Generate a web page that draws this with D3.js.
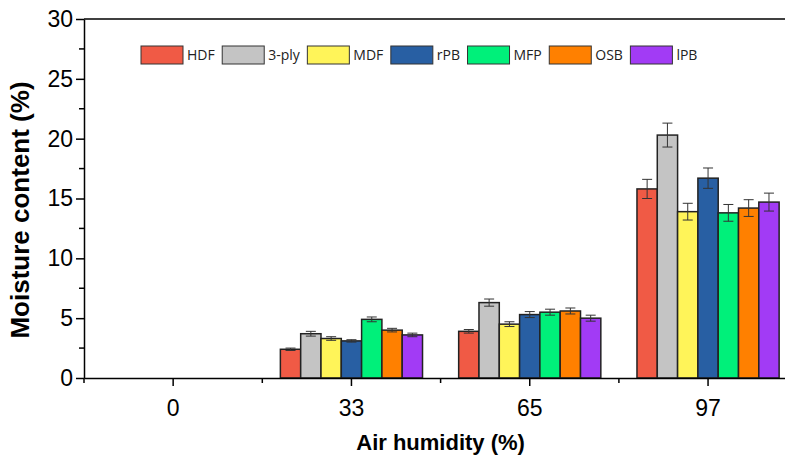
<!DOCTYPE html>
<html>
<head>
<meta charset="utf-8">
<script src="https://cdn.jsdelivr.net/npm/d3@7"></script>
<style>
  body { margin: 0; background: #fff; }
  svg { display: block; }
  .axis path, .axis line { stroke: #000; stroke-width: 1.5; }
  .axis text { font-family: "Liberation Sans", Arial, sans-serif; font-size: 23px; fill: #000; }
  .title { font-family: "Liberation Sans", Arial, sans-serif; font-weight: bold; }
  .legend text { font-family: "Open Sans", sans-serif; font-size: 14px; fill: #222; }
</style>
</head>
<body>
<div class="chart"></div>
<script>
"use strict"

const humidity = ["0", "33", "65", "97"];
const materials = ["HDF", "3-ply", "MDF", "rPB", "MFP", "OSB", "lPB"];
const colors = ["#f05a45", "#c4c4c4", "#fff459", "#285fa3", "#00f07a", "#ff8000", "#a23bf5"];

// moisture content (%) per material, one value per humidity level
const hdf = [0, 2.4, 3.9, 15.8];
const ply3 = [0, 3.7, 6.3, 20.3];
const mdf = [0, 3.3, 4.5, 13.9];
const rpb = [0, 3.1, 5.3, 16.7];
const mfp = [0, 4.9, 5.5, 13.8];
const osb = [0, 4.0, 5.6, 14.2];
const lpb = [0, 3.6, 5.0, 14.7];

// standard deviations
const hdfErr = [0, 0.1, 0.15, 0.8];
const ply3Err = [0, 0.2, 0.3, 1.0];
const mdfErr = [0, 0.15, 0.2, 0.7];
const rpbErr = [0, 0.1, 0.25, 0.85];
const mfpErr = [0, 0.2, 0.25, 0.7];
const osbErr = [0, 0.15, 0.25, 0.7];
const lpbErr = [0, 0.15, 0.25, 0.75];

const yTicks = [0, 5, 10, 15, 20, 25, 30];

const values = [hdf, ply3, mdf, rpb, mfp, osb, lpb];
const errors = [hdfErr, ply3Err, mdfErr, rpbErr, mfpErr, osbErr, lpbErr];

const width = 785,
    height = 464;
const marginLeft = 84,
    plotTop = 19,
    plotBottom = 378,
    step = 178.3;

const svg = d3.select("div.chart").append("svg")
    .attr("width", width)
    .attr("height", height);

const scaleX = d3.scaleBand()
    .domain(humidity)
    .range([marginLeft, marginLeft + step * humidity.length])
    .padding(0);

const scaleInner = d3.scaleBand()
    .domain(materials)
    .range([0, scaleX.bandwidth()])
    .paddingInner(0)
    .paddingOuter(0.89);

const scaleY = d3.scaleLinear()
    .domain([0, 30])
    .range([plotBottom, plotTop]);

// bars
const rows = [];
humidity.forEach((h, i) => {
    materials.forEach((m, j) => {
        rows.push({h: h, m: m, v: values[j][i], e: errors[j][i], c: colors[j]});
    });
});

const bars = svg.append("g").attr("class", "bars");
bars.selectAll("rect")
    .data(rows)
    .join("rect")
    .attr("x", d => scaleX(d.h) + scaleInner(d.m))
    .attr("y", d => scaleY(d.v))
    .attr("width", scaleInner.bandwidth())
    .attr("height", d => scaleY(0) - scaleY(d.v))
    .attr("fill", d => d.c)
    .attr("stroke", "#222")
    .attr("stroke-width", 1.5);

// error bars
const errRows = rows.filter(d => d.v > 0);
const cap = 5;
const err = svg.append("g").attr("class", "errors")
    .attr("stroke", "#333")
    .attr("stroke-width", 1);
const cx = d => scaleX(d.h) + scaleInner(d.m) + scaleInner.bandwidth() / 2;
err.selectAll("line.v")
    .data(errRows)
    .join("line")
    .attr("class", "v")
    .attr("x1", cx).attr("x2", cx)
    .attr("y1", d => scaleY(d.v + d.e))
    .attr("y2", d => scaleY(d.v - d.e));
err.selectAll("line.t")
    .data(errRows)
    .join("line")
    .attr("class", "t")
    .attr("x1", d => cx(d) - cap).attr("x2", d => cx(d) + cap)
    .attr("y1", d => scaleY(d.v + d.e))
    .attr("y2", d => scaleY(d.v + d.e));
err.selectAll("line.b")
    .data(errRows)
    .join("line")
    .attr("class", "b")
    .attr("x1", d => cx(d) - cap).attr("x2", d => cx(d) + cap)
    .attr("y1", d => scaleY(d.v - d.e))
    .attr("y2", d => scaleY(d.v - d.e));

// x axis
const xAxis = d3.axisBottom(scaleX)
    .tickSizeInner(8)
    .tickSizeOuter(0)
    .tickPadding(14);
svg.append("g")
    .attr("class", "axis x-axis")
    .attr("transform", "translate(0," + plotBottom + ")")
    .call(xAxis);

// minor x ticks on the group boundaries
svg.append("g")
    .attr("class", "axis")
    .selectAll("line")
    .data(humidity.map(h => scaleX(h)).concat([scaleX.range()[1]]))
    .join("line")
    .attr("x1", d => d).attr("x2", d => d)
    .attr("y1", plotBottom).attr("y2", plotBottom + 5);

// y axis
const yAxis = d3.axisLeft(scaleY)
    .tickValues(yTicks)
    .tickSizeInner(8)
    .tickSizeOuter(0)
    .tickPadding(3);
svg.append("g")
    .attr("class", "axis y-axis")
    .attr("transform", "translate(" + marginLeft + ",0)")
    .call(yAxis);

svg.append("g")
    .attr("class", "axis")
    .selectAll("line")
    .data(yTicks.slice(1).map(t => t - 2.5))
    .join("line")
    .attr("x1", marginLeft - 5).attr("x2", marginLeft)
    .attr("y1", d => scaleY(d)).attr("y2", d => scaleY(d));

// top frame
svg.append("line")
    .attr("x1", marginLeft).attr("x2", width)
    .attr("y1", plotTop).attr("y2", plotTop)
    .attr("stroke", "#000")
    .attr("stroke-width", 1.5);

// titles
svg.append("text")
    .attr("class", "title")
    .attr("x", scaleX("65"))
    .attr("y", 450)
    .attr("text-anchor", "middle")
    .style("font-size", "22px")
    .text("Air humidity (%)");

svg.append("text")
    .attr("class", "title")
    .attr("transform", "translate(29,210) rotate(-90)")
    .attr("text-anchor", "middle")
    .style("font-size", "26px")
    .text("Moisture content (%)");

// legend
const legend = svg.append("g").attr("class", "legend");
let lx = 141;
materials.forEach((m, j) => {
    legend.append("rect")
        .attr("x", lx).attr("y", 46)
        .attr("width", 42).attr("height", 18)
        .attr("fill", colors[j])
        .attr("stroke", "#333")
        .attr("stroke-width", 1);
    const t = legend.append("text")
        .attr("x", lx + 46).attr("y", 60)
        .text(m);
    lx += 46 + t.node().getComputedTextLength() + 7.5;
});
</script>
</body>
</html>
